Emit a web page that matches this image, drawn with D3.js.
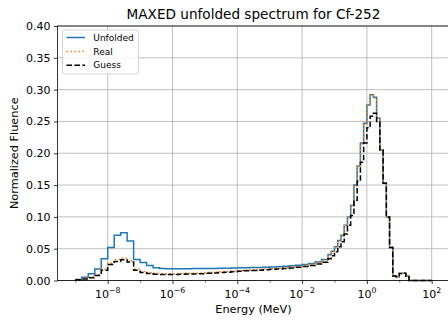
<!DOCTYPE html>
<html>
<head>
<meta charset="utf-8">
<script src="https://cdn.jsdelivr.net/npm/d3@7"></script>
<style>
  html, body { margin: 0; padding: 0; background: #fff; }
  svg { display: block; font-family: "DejaVu Sans", sans-serif; }
</style>
</head>
<body>
<svg id="chart" width="448" height="322"></svg>
<script>
// ---- data (log10 of bin edges in MeV, and per-bin normalized fluence) ----
const logEdges = [
  -9.0, -8.8, -8.6, -8.4, -8.2, -8.0, -7.8, -7.6, -7.4, -7.2,
  -7.0, -6.8, -6.6, -6.4, -6.2, -6.0, -5.8, -5.6, -5.4, -5.2,
  -5.0, -4.8, -4.6, -4.4, -4.2, -4.0, -3.8, -3.6, -3.4, -3.2,
  -3.0, -2.8, -2.6, -2.4, -2.2, -2.0, -1.8, -1.6, -1.4, -1.2,
  -1.1, -1.0, -0.9, -0.8, -0.7, -0.6, -0.5, -0.4, -0.3, -0.2,
  -0.1, 0.0, 0.1, 0.2, 0.3, 0.4, 0.5, 0.6, 0.7, 0.8,
  0.9, 1.0, 1.1, 1.2, 1.3, 2.0
];
const unfolded = [
  0.0016, 0.005, 0.0105, 0.018, 0.034, 0.052, 0.071, 0.075, 0.062, 0.033,
  0.0284, 0.0237, 0.020, 0.0188, 0.0186, 0.0185, 0.0185, 0.0186, 0.0187, 0.0188,
  0.0189, 0.0190, 0.0192, 0.0194, 0.0196, 0.0199, 0.0201, 0.0203, 0.0206, 0.0209,
  0.0213, 0.0218, 0.0224, 0.0231, 0.0240, 0.0252, 0.0268, 0.0292, 0.0330,
  0.041, 0.046, 0.053, 0.063, 0.071, 0.087, 0.100, 0.118, 0.150, 0.180,
  0.216, 0.247, 0.276, 0.292, 0.288, 0.255, 0.205, 0.153, 0.100, 0.052,
  0.007, 0.006, 0.011, 0.0115, 0.007, 0.0
];
const real = [
  0.0012, 0.003, 0.0055, 0.0095, 0.018, 0.027, 0.033, 0.035, 0.031, 0.018,
  0.014, 0.012, 0.011, 0.0107, 0.0106, 0.0107, 0.0109, 0.0112, 0.0115, 0.0119,
  0.0124, 0.0130, 0.0136, 0.0143, 0.0150, 0.0158, 0.0163, 0.0168, 0.0174, 0.0180,
  0.0186, 0.0193, 0.0201, 0.0211, 0.0222, 0.0236, 0.0254, 0.0280, 0.0320,
  0.040, 0.045, 0.052, 0.062, 0.070, 0.086, 0.100, 0.118, 0.149, 0.180,
  0.215, 0.246, 0.275, 0.291, 0.287, 0.255, 0.205, 0.153, 0.100, 0.052,
  0.007, 0.006, 0.011, 0.0115, 0.007, 0.0
];
const guess = [
  0.001, 0.0025, 0.0045, 0.008, 0.016, 0.025, 0.030, 0.0325, 0.029, 0.016,
  0.0126, 0.011, 0.010, 0.0096, 0.0095, 0.0096, 0.0098, 0.0101, 0.0104, 0.0108,
  0.0113, 0.0118, 0.0124, 0.0131, 0.0138, 0.0146, 0.0152, 0.0158, 0.0163, 0.0169,
  0.0175, 0.0182, 0.0190, 0.0198, 0.0208, 0.0220, 0.0236, 0.0258, 0.0288,
  0.034, 0.039, 0.045, 0.053, 0.061, 0.073, 0.087, 0.102, 0.126, 0.156,
  0.186, 0.216, 0.240, 0.258, 0.263, 0.250, 0.205, 0.153, 0.100, 0.052,
  0.007, 0.006, 0.011, 0.0115, 0.007, 0.0
];
const xTickExps = [-8, -6, -4, -2, 0, 2];
const xMinorExps = [-9, -7, -5, -3, -1, 1];
const yTicks = [0.00, 0.05, 0.10, 0.15, 0.20, 0.25, 0.30, 0.35, 0.40];
const seriesNames = ["Unfolded", "Real", "Guess"];
const titleText = "MAXED unfolded spectrum for Cf-252";
const xLabelText = "Energy (MeV)";
const yLabelText = "Normalized Fluence";

// ---- layout ----
const svg = d3.select("#chart");
const L = 57.5, R = 449.5, T = 26, B = 280.5;

const x = d3.scaleLog().domain([Math.pow(10, -9.55), Math.pow(10, 2.55)]).range([L, R]);
const y = d3.scaleLinear().domain([0, 0.40]).range([B, T]);

// grid
const grid = svg.append("g");
grid.selectAll("line.gx").data(xTickExps).join("line")
  .attr("x1", d => x(Math.pow(10, d))).attr("x2", d => x(Math.pow(10, d)))
  .attr("y1", T).attr("y2", B)
  .attr("stroke", "#b0b0b0").attr("stroke-width", 0.8);
grid.selectAll("line.gy").data(yTicks).join("line")
  .attr("x1", L).attr("x2", R)
  .attr("y1", d => y(d)).attr("y2", d => y(d))
  .attr("stroke", "#b0b0b0").attr("stroke-width", 0.8);

// series
const edges = logEdges.map(e => Math.pow(10, e));
function stepPoints(vals) {
  const pts = vals.map((v, i) => [edges[i], v]);
  pts.push([edges[edges.length - 1], vals[vals.length - 1]]);
  return pts;
}
const line = d3.line().x(d => x(d[0])).y(d => y(d[1])).curve(d3.curveStepAfter);

const styles = [
  { data: unfolded, color: "#1f77b4", dash: null },
  { data: real, color: "#ff7f0e", dash: "1.5,2.475" },
  { data: guess, color: "#000000", dash: "5.55,2.4" }
];
const plot = svg.append("g");
styles.forEach(s => {
  plot.append("path")
    .attr("d", line(stepPoints(s.data)))
    .attr("fill", "none")
    .attr("stroke", s.color)
    .attr("stroke-width", 1.5)
    .attr("stroke-dasharray", s.dash);
});

// axes
const xAxis = d3.axisBottom(x)
  .tickValues(xTickExps.map(e => Math.pow(10, e)))
  .tickSize(3.5).tickPadding(3.5).tickFormat("");
const gx = svg.append("g").attr("transform", `translate(0,${B})`).call(xAxis);
gx.select(".domain").remove();
gx.selectAll(".tick line").attr("stroke", "#000").attr("stroke-width", 0.8);

const gxm = svg.append("g").attr("transform", `translate(0,${B})`)
  .call(d3.axisBottom(x).tickValues(xMinorExps.map(e => Math.pow(10, e))).tickSize(2).tickFormat(""));
gxm.select(".domain").remove();
gxm.selectAll(".tick line").attr("stroke", "#000").attr("stroke-width", 0.6);

// x tick labels with superscript
const xl = svg.append("g");
xTickExps.forEach(e => {
  const t = xl.append("text")
    .attr("x", x(Math.pow(10, e)))
    .attr("y", 298)
    .attr("text-anchor", "middle")
    .attr("font-size", 11)
    .attr("fill", "#000");
  t.append("tspan").text("10");
  t.append("tspan").attr("dy", -4.6).attr("font-size", 7.8)
    .text(e < 0 ? "\u2212" + Math.abs(e) : String(e));
});

const yAxis = d3.axisLeft(y).tickValues(yTicks).tickSize(3.5).tickPadding(3.5)
  .tickFormat(d3.format(".2f"));
const gy = svg.append("g").attr("transform", `translate(${L},0)`).call(yAxis);
gy.select(".domain").remove();
gy.selectAll(".tick line").attr("stroke", "#000").attr("stroke-width", 0.8);
gy.selectAll(".tick text").attr("font-size", 11).attr("fill", "#000")
  .attr("font-family", "DejaVu Sans, sans-serif");

// spines
svg.append("rect").attr("x", L).attr("y", T).attr("width", R - L).attr("height", B - T)
  .attr("fill", "none").attr("stroke", "#000").attr("stroke-width", 0.8);

// title and labels
svg.append("text").attr("x", (L + R) / 2).attr("y", 19).attr("text-anchor", "middle")
  .attr("font-size", 13.6).attr("fill", "#000").text(titleText);
svg.append("text").attr("x", (L + R) / 2).attr("y", 313).attr("text-anchor", "middle")
  .attr("font-size", 11.3).attr("fill", "#000").text(xLabelText);
svg.append("text").attr("transform", `translate(18,${(T + B) / 2}) rotate(-90)`)
  .attr("text-anchor", "middle").attr("font-size", 11.3).attr("fill", "#000").text(yLabelText);

// legend
const lg = svg.append("g");
lg.append("rect").attr("x", 62.5).attr("y", 30).attr("width", 76).attr("height", 44)
  .attr("rx", 2.5).attr("fill", "#fff").attr("fill-opacity", 0.8)
  .attr("stroke", "#cccccc").attr("stroke-width", 0.8);
const ly = [37.5, 51.5, 65.3];
styles.forEach((s, i) => {
  lg.append("line").attr("x1", 66.5).attr("x2", 85).attr("y1", ly[i]).attr("y2", ly[i])
    .attr("stroke", s.color).attr("stroke-width", 1.5).attr("stroke-dasharray", s.dash);
  lg.append("text").attr("x", 93.3).attr("y", ly[i]).attr("dy", "0.35em")
    .attr("font-size", 9).attr("fill", "#000").text(seriesNames[i]);
});
</script>
</body>
</html>
